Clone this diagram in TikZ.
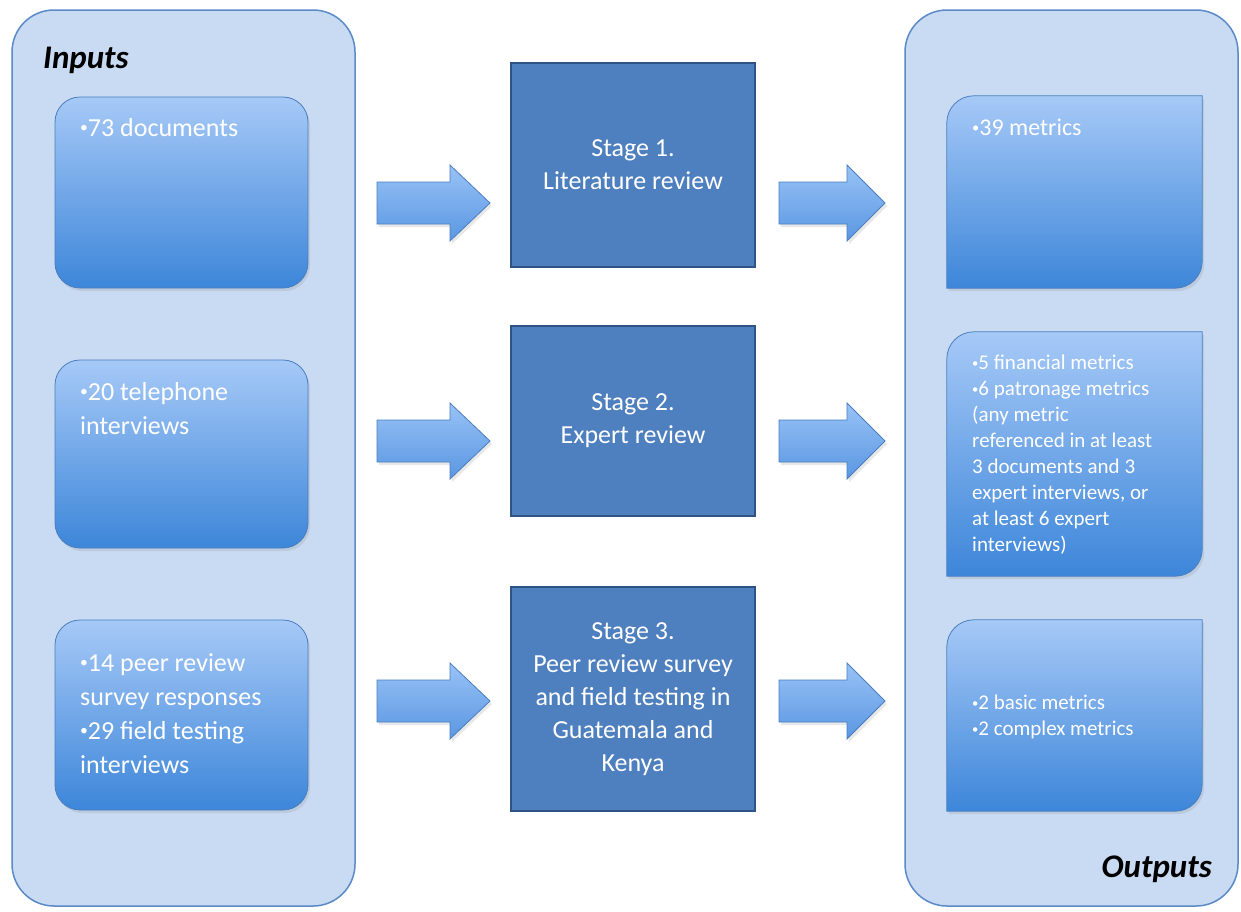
\documentclass[tikz,border=0pt]{standalone}
\usepackage{graphicx}
\usepackage{fontspec}
\setmainfont{Carlito}
\usetikzlibrary{shadows}
\definecolor{panelfill}{HTML}{C9DBF2}
\definecolor{paneldraw}{HTML}{5A8AC8}
\definecolor{boxtop}{HTML}{A6C9F7}
\definecolor{boxbot}{HTML}{3D86D9}
\definecolor{boxdraw}{HTML}{4A7EBF}
\definecolor{stagefill}{HTML}{4E7FBE}
\definecolor{stagedraw}{HTML}{2E5486}
\definecolor{arrtop}{HTML}{98C2F6}
\definecolor{arrbot}{HTML}{5A97E2}
\newcommand\smbul{\raisebox{0.13em}{\scalebox{0.6}{•}}}
\newcommand\blockarr[3]{%
  \path[blockarrow] ([yshift=21pt]#1) -- ++(#2-#3,0) -- ++(0,17) -- ++(#3,-38)
    -- ++(-#3,-38) -- ++(0,17) -- ++(-#2+#3,0) -- cycle;}
\begin{document}
\begin{tikzpicture}[x=1pt,y=1pt,
  panel/.style={draw=paneldraw, line width=1.5pt, fill=panelfill,
    rounded corners=42pt, inner sep=0pt, minimum width=#1, minimum height=896pt},
  inbox/.style={draw=boxdraw, line width=0.8pt, top color=boxtop, bottom color=boxbot,
    rounded corners=25pt, inner sep=0pt, minimum width=253pt, minimum height=#1,
    drop shadow={opacity=0.18, shadow xshift=2pt, shadow yshift=-3pt}},
  outframe/.style={inner sep=0pt, minimum width=255pt, minimum height=#1},
  outbox/.style={draw=boxdraw, line width=0.8pt, top color=boxtop, bottom color=boxbot,
    drop shadow={opacity=0.18, shadow xshift=2pt, shadow yshift=-3pt}},
  stagebox/.style={draw=stagedraw, line width=1.6pt, fill=stagefill, inner sep=0pt,
    minimum width=244pt, minimum height=#1, text=white, align=center,
    font=\fontsize{26}{33}\selectfont},
  blockarrow/.style={draw=boxdraw, line width=0.8pt, top color=arrtop, bottom color=arrbot,
    drop shadow={opacity=0.18, shadow xshift=2pt, shadow yshift=-3pt}},
  intext/.style={text=white, align=left, inner sep=0pt, anchor=north west,
    font=\fontsize{26}{34}\selectfont},
  outtext/.style={text=white, align=left, inner sep=0pt, anchor=north west,
    font=\fontsize{#1}{26}\selectfont},
  paneltitle/.style={text=black, inner sep=0pt, font=\fontsize{33}{40}\selectfont\bfseries\itshape}
]
\useasboundingbox (0,0) rectangle (1241,-911);
\fill[white] (0,0) rectangle (1241,-911);

% panels
\node[panel=343pt] (inpanel) at (183.5,-458) {};
\node[panel=333pt] (outpanel) at (1071.5,-458) {};
\node[paneltitle, anchor=base west] (intitle) at (43,-68) {Inputs};
\node[paneltitle, anchor=base east] (outtitle) at (1212,-877) {Outputs};

% input boxes
\node[inbox=191pt] (in1) at (181.5,-192.5) {};
\node[inbox=188pt] (in2) at (181.5,-454) {};
\node[inbox=190pt] (in3) at (181.5,-715) {};
\node[intext] (in1t) at (80,-118) {\smbul 73 documents};
\node[intext] (in2t) at (80,-382) {\smbul 20 telephone\\interviews};
\node[intext] (in3t) at (80,-653) {\smbul 14 peer review\\survey responses\\\smbul 29 field testing\\interviews};

% stage boxes
\node[stagebox=204pt] (s1) at (633,-165) {Stage 1.\\Literature review};
\node[stagebox=190pt] (s2) at (633,-421) {Stage 2.\\Expert review};
\node[stagebox=224pt] (s3) at (633,-699) {Stage 3.\\Peer review survey\\and field testing in\\Guatemala and\\Kenya};

% output boxes
\node[outframe=192pt] (o1) at (1074.5,-192) {};
\node[outframe=244pt] (o2) at (1074.5,-454) {};
\node[outframe=191pt] (o3) at (1074.5,-715.5) {};
\foreach \o in {o1,o2,o3}{
  \path[outbox] (\o.south west) -- ([yshift=-27pt]\o.north west)
    arc[start angle=180, end angle=90, radius=27pt] -- (\o.north east)
    -- ([yshift=27pt]\o.south east) arc[start angle=0, end angle=-90, radius=27pt] -- cycle;
}
\node[outtext=24] (o1t) at (972,-119) {\smbul 39 metrics};
\node[outtext=21] (o2t) at (972,-355) {\smbul 5 financial metrics\\\smbul 6 patronage metrics\\(any metric\\referenced in at least\\3 documents and 3\\expert interviews, or\\at least 6 expert\\interviews)};
\node[outtext=21] (o3t) at (972,-695) {\smbul 2 basic metrics\\\smbul 2 complex metrics};

% arrows
\coordinate (a1) at (377,-203);
\coordinate (a2) at (377,-441);
\coordinate (a3) at (377,-701);
\coordinate (b1) at (779,-203);
\coordinate (b2) at (779,-441);
\coordinate (b3) at (779,-701);
\blockarr{a1}{113}{40}
\blockarr{a2}{113}{40}
\blockarr{a3}{113}{40}
\blockarr{b1}{106}{38}
\blockarr{b2}{106}{38}
\blockarr{b3}{106}{38}
\end{tikzpicture}
\end{document}
